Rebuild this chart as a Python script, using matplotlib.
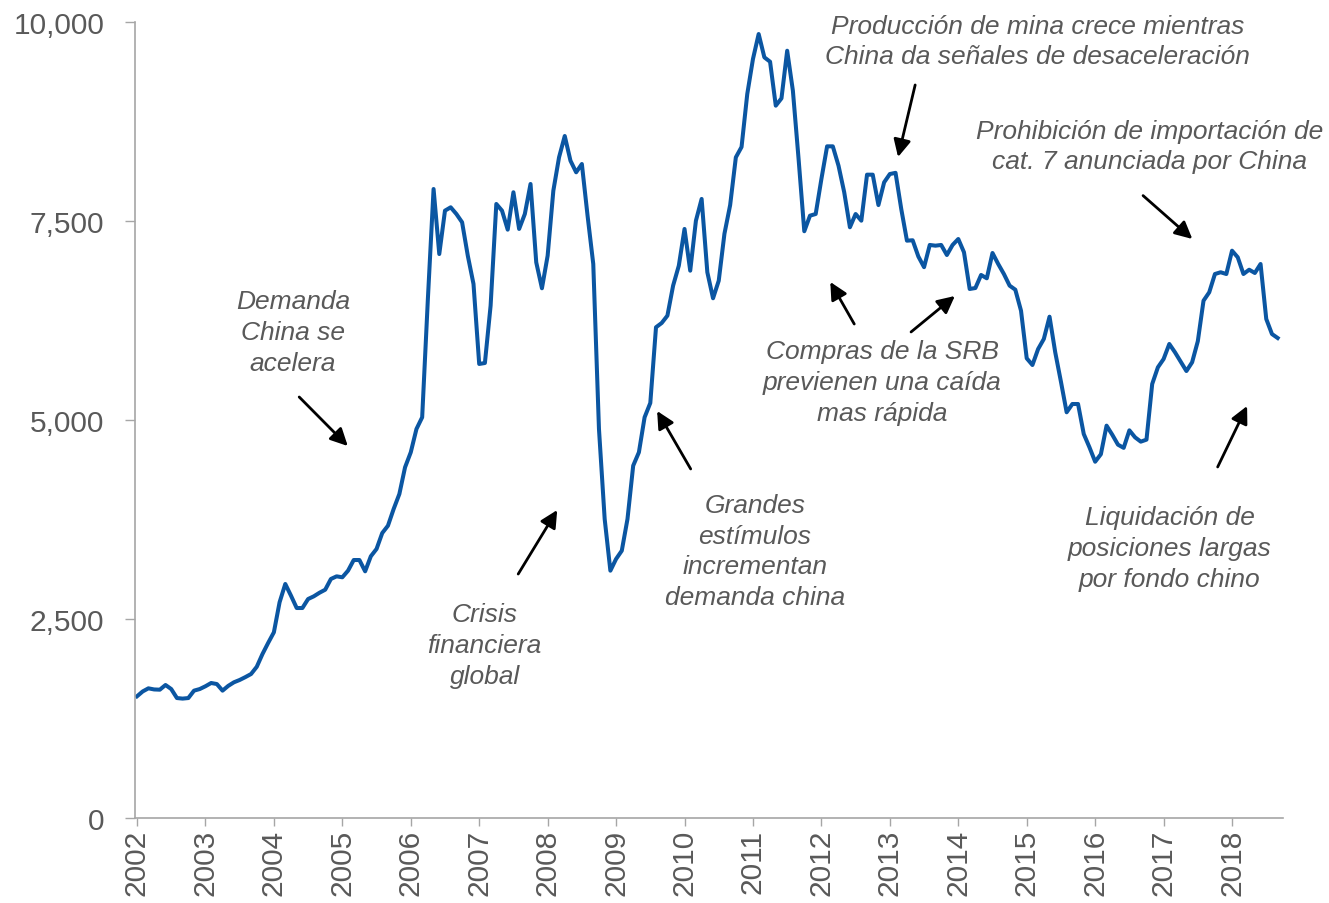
import matplotlib
matplotlib.use("Agg")
import matplotlib.pyplot as plt
import numpy as np
from matplotlib.ticker import FuncFormatter

# Monthly copper price (US$/t), Jan 2002 - Sep 2018
start_year = 2002
prices = [
    1529, 1590, 1629, 1615, 1612, 1671, 1620, 1507, 1500, 1507, 1600, 1620,   # 2002
    1655, 1696, 1683, 1600, 1660, 1705, 1734, 1770, 1809, 1900, 2060, 2200,   # 2003
    2333, 2710, 2940, 2793, 2638, 2638, 2751, 2785, 2830, 2868, 3003, 3036,   # 2004
    3024, 3107, 3241, 3241, 3099, 3288, 3380, 3580, 3672, 3882, 4070, 4406,   # 2005
    4594, 4887, 5034, 6520, 7902, 7085, 7630, 7672, 7588, 7484, 7064, 6709,   # 2006
    5704, 5716, 6436, 7714, 7630, 7391, 7861, 7400, 7588, 7965, 6981, 6655,   # 2007
    7064, 7881, 8300, 8568, 8258, 8112, 8216, 7567, 6960, 4887, 3756, 3107,   # 2008
    3254, 3358, 3756, 4426, 4594, 5034, 5214, 6165, 6219, 6311, 6688, 6939,   # 2009
    7400, 6876, 7504, 7777, 6856, 6529, 6750, 7340, 7700, 8300, 8430, 9095,   # 2010
    9535, 9849, 9556, 9501, 8949, 9041, 9639, 9137, 8279, 7371, 7567, 7588,   # 2011
    8028, 8438, 8438, 8195, 7861, 7421, 7588, 7504, 8082, 8082, 7700, 7986,   # 2012
    8090, 8105, 7651, 7253, 7258, 7054, 6920, 7199, 7190, 7199, 7073, 7199,   # 2013
    7274, 7107, 6646, 6658, 6822, 6780, 7098, 6960, 6834, 6688, 6637, 6373,   # 2014
    5775, 5691, 5892, 6018, 6298, 5850, 5481, 5097, 5201, 5201, 4824, 4657,   # 2015
    4476, 4570, 4929, 4815, 4690, 4650, 4870, 4782, 4728, 4753, 5452, 5662,   # 2016
    5766, 5955, 5850, 5732, 5615, 5725, 5990, 6499, 6604, 6834, 6856, 6834,   # 2017
    7127, 7044, 6834, 6888, 6847, 6960, 6269, 6080, 6030,                     # 2018
]
year_ticks = list(range(2002, 2019))
y_ticks = [0, 2500, 5000, 7500, 10000]

# annotations: text, text position (year, value), arrows [(from), (to)]
annotations = [
    ("Demanda\nChina se\nacelera", (2004.28, 6106), [((2004.37, 5289), (2005.08, 4673))]),
    ("Crisis\nfinanciera\nglobal", (2007.08, 2173), [((2007.57, 3065), (2008.14, 3869))]),
    ("Grandes\nestímulos\nincrementan\ndemanda china", (2011.03, 3354),
     [((2010.09, 4385), (2009.60, 5113))]),
    ("Compras de la SRB\nprevienen una caída\nmas rápida", (2012.89, 5477),
     [((2012.48, 6206), (2012.13, 6734)), ((2013.31, 6106), (2013.95, 6558))]),
    ("Producción de mina crece mientras\nChina da señales de desaceleración", (2015.16, 9761),
     [((2013.37, 9209), (2013.12, 8304))]),
    ("Prohibición de importación de\ncat. 7 anunciada por China", (2016.80, 8442),
     [((2016.70, 7819), (2017.42, 7274))]),
    ("Liquidación de\nposiciones largas\npor fondo chino", (2017.09, 3392),
     [((2017.79, 4410), (2018.22, 5176))]),
]

plt.rcParams['font.family'] = ['Liberation Sans', 'DejaVu Sans']

W, H = 1329, 904
fig = plt.figure(figsize=(W / 100, H / 100), dpi=100)
ax = fig.add_axes([135 / W, (H - 819) / H, (1283 - 135) / W, 796 / H])

x = start_year + np.arange(len(prices)) / 12.0
ax.plot(x, prices, color='#0B56A2', lw=2.9, solid_joinstyle='round')

ax.set_xlim(2002 - 2 / 68.44, 2002 + (1283 - 137) / 68.44)
ax.set_ylim(0, 10000)
ax.set_xticks(year_ticks)
ax.set_xticklabels([str(y) for y in year_ticks], rotation=90)
ax.set_yticks(y_ticks)
ax.yaxis.set_major_formatter(FuncFormatter(lambda v, p: f"{v:,.0f}"))

grey = '#A6A6A6'
for s in ['top', 'right']:
    ax.spines[s].set_visible(False)
for s in ['left', 'bottom']:
    ax.spines[s].set_color(grey)
    ax.spines[s].set_linewidth(1.2)
ax.tick_params(axis='y', direction='out', length=7, width=1, color=grey,
               labelsize=21.5, labelcolor='#595959', pad=15)
ax.tick_params(axis='x', direction='out', length=6, width=1, color=grey,
               labelsize=21.5, labelcolor='#595959', pad=2)

for text, pos, arrows in annotations:
    ax.text(pos[0], pos[1], text, ha='center', va='center', fontsize=19,
            style='italic', color='#595959', linespacing=1.35)
    for a, b in arrows:
        ax.annotate('', xy=b, xytext=a,
                    arrowprops=dict(arrowstyle='-|>', color='black', lw=2,
                                    mutation_scale=26, shrinkA=0, shrinkB=0))

fig.savefig('out.png', dpi=100)
